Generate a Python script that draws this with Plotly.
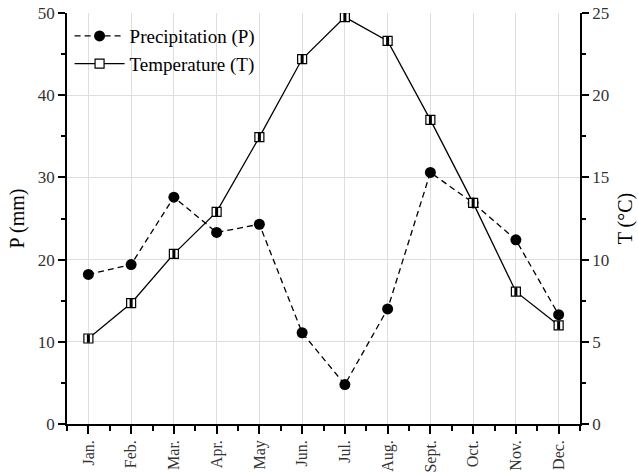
import plotly.graph_objects as go

months = ["Jan.", "Feb.", "Mar.", "Apr.", "May", "Jun.", "Jul.", "Aug.", "Sept.", "Oct.", "Nov.", "Dec."]
precip = [18.2, 19.4, 27.6, 23.3, 24.3, 11.1, 4.8, 14.0, 30.6, 26.9, 22.4, 13.3]
temp = [5.2, 7.35, 10.35, 12.9, 17.45, 22.2, 24.75, 23.3, 18.5, 13.45, 8.05, 6.0]
p_ticks = [0, 10, 20, 30, 40, 50]
t_ticks = [0, 5, 10, 15, 20, 25]

x = list(range(len(months)))
FONT = "Liberation Serif, Times New Roman, DejaVu Serif, serif"

fig = go.Figure()
fig.add_trace(go.Scatter(
    x=x, y=precip, name="Precipitation (P)", mode="lines+markers",
    line=dict(color="black", width=1.3, dash="6px,4px"),
    marker=dict(symbol="circle", size=11, color="black"),
    yaxis="y",
))
fig.add_trace(go.Scatter(
    x=x, y=temp, name="Temperature (T)", mode="lines+markers",
    line=dict(color="black", width=1.3),
    marker=dict(symbol="square", size=9, color="white", line=dict(color="black", width=1.2)),
    yaxis="y2",
))
fig.add_trace(go.Scatter(
    x=x, y=temp, mode="markers", showlegend=False, hoverinfo="skip",
    marker=dict(symbol="line-ns", size=6, color="black", line=dict(color="black", width=3)),
    yaxis="y2",
))

tickfont = dict(family=FONT, size=17, color="#333333")
fig.update_layout(
    width=638, height=472,
    margin=dict(l=67, r=58, t=13, b=48, autoexpand=False),
    paper_bgcolor="white", plot_bgcolor="white",
    font=dict(family=FONT, color="black"),
    showlegend=True,
    legend=dict(x=0.005, y=0.99, xanchor="left", yanchor="top",
                bgcolor="rgba(0,0,0,0)", font=dict(family=FONT, size=19, color="black"),
                itemwidth=50, tracegroupgap=0),
    xaxis=dict(
        range=[-0.5, len(months) - 0.5], automargin=False,
        tickmode="array", tickvals=x, ticktext=months, tickangle=-90,
        tickfont=dict(family=FONT, size=16, color="#333333"),
        ticks="outside", ticklen=8, tickwidth=1.5, tickcolor="black",
        showline=True, linecolor="black", linewidth=1.5,
        showgrid=True, gridcolor="#dedede", gridwidth=1,
        zeroline=False,
        minor=dict(tickmode="linear", tick0=0.5, dtick=1, ticks="outside", ticklen=5,
                   tickwidth=1.5, tickcolor="black", showgrid=False),
    ),
    yaxis=dict(
        range=[0, 50], tickmode="array", tickvals=p_ticks, automargin=False,
        tickfont=tickfont,
        title=dict(text="P (mm)", font=dict(family=FONT, size=20, color="black"), standoff=8),
        ticks="outside", ticklen=7, tickwidth=1.5, tickcolor="black",
        showline=True, linecolor="black", linewidth=1.5,
        showgrid=True, gridcolor="#dedede", gridwidth=1,
        zeroline=False,
        minor=dict(tickmode="linear", tick0=5, dtick=10, ticks="outside", ticklen=4,
                   tickwidth=1.5, tickcolor="black", showgrid=False),
    ),
    yaxis2=dict(
        range=[0, 25], tickmode="array", tickvals=t_ticks, automargin=False,
        overlaying="y", side="right",
        tickfont=tickfont,
        title=dict(text="T (°C)", font=dict(family=FONT, size=20, color="black"), standoff=10),
        ticks="outside", ticklen=7, tickwidth=1.5, tickcolor="black",
        showline=True, linecolor="black", linewidth=1.5,
        showgrid=False, zeroline=False,
        minor=dict(tickmode="linear", tick0=2.5, dtick=5, ticks="outside", ticklen=4,
                   tickwidth=1.5, tickcolor="black", showgrid=False),
    ),
)

fig.write_html("out.html", config={"displayModeBar": False},
               post_script="document.body.style.margin='0px';")
